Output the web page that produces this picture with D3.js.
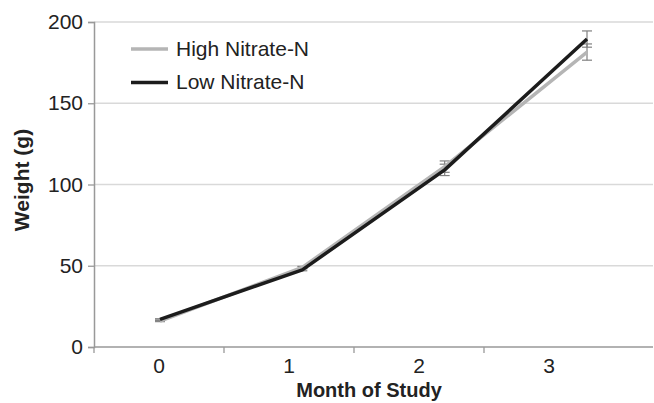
<!DOCTYPE html>
<html><head><meta charset="utf-8">
<script src="https://cdn.jsdelivr.net/npm/d3@7"></script>
<style>body{margin:0;background:#fff}svg{display:block;font-family:"Liberation Sans",Arial,sans-serif}</style>
</head><body>
<svg id="c" width="654" height="403"></svg>
<script>
const months = ["0","1","2","3"];
const highValues = [16, 49, 111, 181.5];
const highErrors = [0.4, 0.6, 3.5, 5];
const lowValues = [17, 47.5, 109, 189.5];
const lowErrors = [0.4, 0.6, 3.5, 5];
const yTicks = [0, 50, 100, 150, 200];
const seriesNames = ["High Nitrate-N", "Low Nitrate-N"];
const seriesColors = ["#b5b5b5", "#1c1c1c"];

(function () {
const svg = d3.select("#c");
const pLeft = 94, pRight = 653, pTop = 22, pBottom = 347;

const xBand = d3.scaleBand().domain(months).range([pLeft, pLeft + 130 * 4]);
const xLine = d3.scaleLinear().domain([0, 3]).range([160, 587]);
const y = d3.scaleLinear().domain([0, 200]).range([pBottom, pTop]);

// gridlines
svg.append("g").selectAll("line").data(yTicks.slice(1)).join("line")
  .attr("x1", pLeft).attr("x2", pRight)
  .attr("y1", d => y(d)).attr("y2", d => y(d))
  .attr("stroke", "#d9d9d9").attr("stroke-width", 1.3);

// y axis
const yAxis = svg.append("g").attr("transform", `translate(${pLeft},0)`)
  .call(d3.axisLeft(y).tickValues(yTicks).tickSize(6).tickPadding(5));
yAxis.select(".domain").attr("stroke", "#999").attr("stroke-width", 1.5);
yAxis.selectAll(".tick line").attr("stroke", "#999").attr("stroke-width", 1.3);
yAxis.selectAll(".tick text").attr("font-size", 21).attr("fill", "#222")
  .attr("font-family", "Liberation Sans, Arial, sans-serif");

// x axis
const xg = svg.append("g").attr("transform", `translate(0,${pBottom})`);
xg.append("line").attr("x1", pLeft).attr("x2", pRight).attr("y1", 0).attr("y2", 0)
  .attr("stroke", "#999").attr("stroke-width", 1.5);
xg.selectAll("line.tk").data(months).join("line").attr("class", "tk")
  .attr("x1", d => xBand(d)).attr("x2", d => xBand(d))
  .attr("y1", 0).attr("y2", 6).attr("stroke", "#999").attr("stroke-width", 1.3);
xg.selectAll("text").data(months).join("text")
  .attr("x", d => xBand(d) + xBand.bandwidth() / 2).attr("y", 26)
  .attr("text-anchor", "middle").attr("font-size", 21).attr("fill", "#222").text(d => d);

// axis titles
svg.append("text").attr("x", 369).attr("y", 397).attr("text-anchor", "middle")
  .attr("font-size", 20).attr("font-weight", "bold").attr("fill", "#222").text("Month of Study");
svg.append("text").attr("transform", "translate(29,180) rotate(-90)").attr("text-anchor", "middle")
  .attr("font-size", 21).attr("font-weight", "bold").attr("fill", "#222").text("Weight (g)");

// lines
const data = [highValues, lowValues];
const errs = [highErrors, lowErrors];
const line = d3.line().x((d, i) => xLine(i)).y(d => y(d));
// error bars (behind lines)
data.forEach((vals, s) => {
  const g = svg.append("g").attr("stroke", "#808080").attr("stroke-width", 1.2);
  vals.forEach((v, i) => {
    const e = errs[s][i], cx = xLine(i);
    g.append("line").attr("x1", cx).attr("x2", cx).attr("y1", y(v + e)).attr("y2", y(v - e));
    g.append("line").attr("x1", cx - 5).attr("x2", cx + 5).attr("y1", y(v + e)).attr("y2", y(v + e));
    g.append("line").attr("x1", cx - 5).attr("x2", cx + 5).attr("y1", y(v - e)).attr("y2", y(v - e));
  });
});
data.forEach((vals, s) => {
  svg.append("path").datum(vals).attr("d", line).attr("fill", "none")
    .attr("stroke", seriesColors[s]).attr("stroke-width", 3.5).attr("stroke-linejoin", "round");
});

// legend
const lg = svg.append("g");
seriesNames.forEach((n, i) => {
  const ly = 49 + i * 33.5;
  lg.append("line").attr("x1", 131).attr("x2", 168).attr("y1", ly).attr("y2", ly)
    .attr("stroke", seriesColors[i]).attr("stroke-width", 3.5);
  lg.append("text").attr("x", 176).attr("y", ly + 6.5).attr("font-size", 21).attr("fill", "#222").text(n);
});
})();
</script>
</body></html>
